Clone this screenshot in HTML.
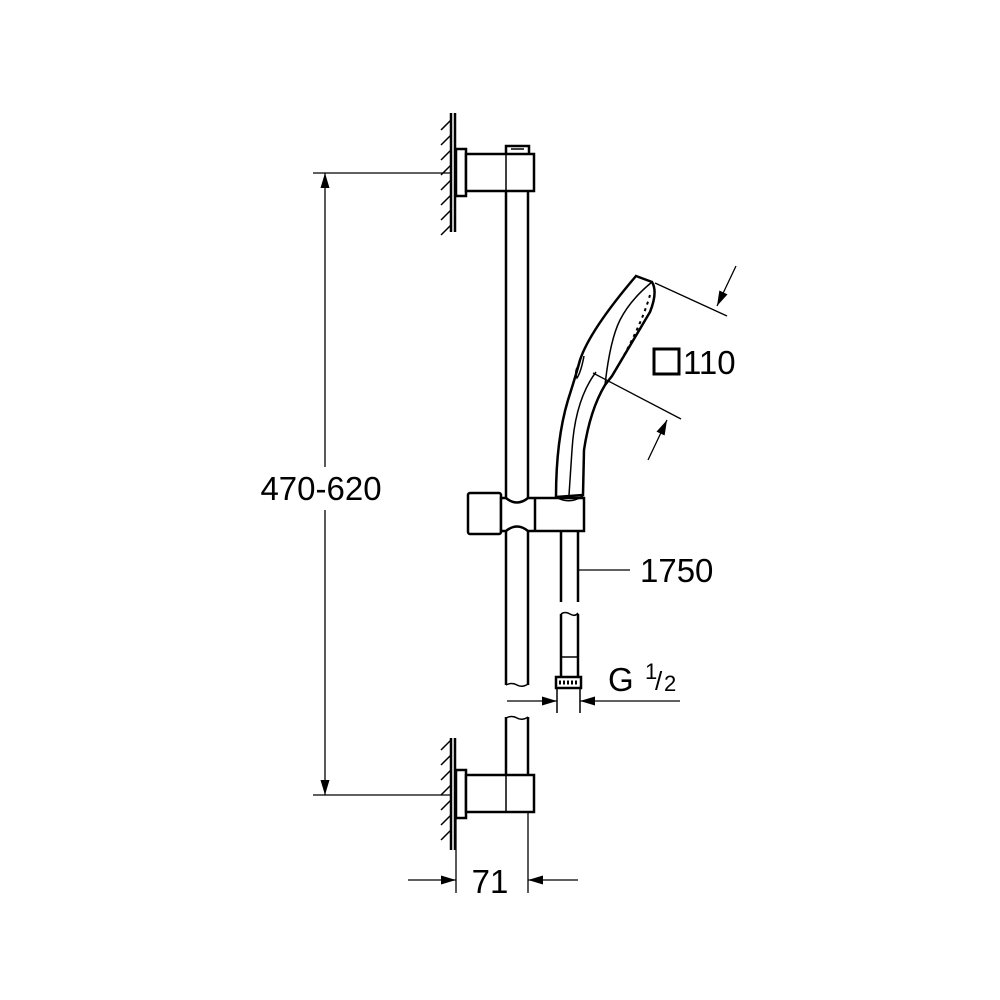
<!DOCTYPE html>
<html><head><style>html,body{margin:0;padding:0;background:#fff}svg{display:block}</style></head><body>
<svg width="1000" height="1000" viewBox="0 0 1000 1000" xmlns="http://www.w3.org/2000/svg">
<defs>
<marker id="a" viewBox="0 0 10 6" refX="10" refY="3" markerWidth="18" markerHeight="9" markerUnits="userSpaceOnUse" orient="auto"><path d="M0,0 L10,3 L0,6z" fill="#000"/></marker>
</defs>
<g fill="none" stroke="#000" stroke-width="2.5">
<line x1="451" y1="113" x2="451" y2="232"/><line x1="455" y1="113" x2="455" y2="232"/>
<rect x="456" y="149" width="10" height="47" fill="#fff"/>
<rect x="466" y="154" width="68" height="37" fill="#fff"/>
<line x1="506" y1="154" x2="506" y2="191" stroke-width="1.5"/>
<path d="M506,154 V146 H529 V154"/>
<line x1="511" y1="149" x2="524" y2="149" stroke-width="1.5"/>
<line x1="506" y1="191" x2="506" y2="685"/><line x1="528" y1="191" x2="528" y2="685"/>
<path d="M506,685 q6,-3 11,0 t11,-1" stroke-width="1.5"/>
<path d="M506,718 q6,-3 11,0 t11,-1" stroke-width="1.5"/>
<line x1="506" y1="717" x2="506" y2="775"/><line x1="528" y1="717" x2="528" y2="775"/>
<line x1="451" y1="738" x2="451" y2="850"/><line x1="455" y1="738" x2="455" y2="850"/>
<rect x="456" y="770" width="10" height="48" fill="#fff"/>
<rect x="466" y="775" width="68" height="37" fill="#fff"/>
<line x1="506" y1="775" x2="506" y2="812" stroke-width="1.5"/>
<rect x="468" y="493" width="33" height="41" rx="2" fill="#fff"/>
<path d="M501,498 H506 Q517,507 528,498 H584 V531 H528 Q517,522 506,531 H501 Z" fill="#fff"/>
<line x1="535" y1="498" x2="535" y2="531"/>
<line x1="561" y1="531" x2="561" y2="602"/><line x1="578" y1="531" x2="578" y2="602"/>
<path d="M561,614 q4,-3 9,0 t8,-1" stroke-width="1.5"/>
<line x1="561" y1="614" x2="561" y2="677"/><line x1="578" y1="614" x2="578" y2="677"/>
<line x1="561" y1="657" x2="578" y2="657" stroke-width="1.5"/>
<rect x="556" y="677" width="25" height="11" fill="#fff"/>
<line x1="559" y1="682.5" x2="578" y2="682.5" stroke-dasharray="2 2" stroke-width="4"/>
<line x1="557" y1="688" x2="557" y2="713" stroke-width="1.5"/><line x1="580" y1="688" x2="580" y2="713" stroke-width="1.5"/>
<path d="M636,276 L652,282 Q658,292 650,312 L612,376 L605,385 Q590,410 584,450 L583,495 L556,497 Q556,440 568,400 Q576,375 580,360 Q590,330 636,276 Z" fill="#fff"/>
<path d="M652,282 Q630,300 620,320 Q610,340 605,385" stroke-width="1.5"/>
<path d="M596,372 Q575,400 572,450 L569,495" stroke-width="1.5"/>
<path d="M578,366 Q574,372 577,378 Q581,372 584,356" stroke-width="1.5"/>
<path d="M556,497 Q569,505 583,496" stroke-width="1.5"/>
<path d="M650,295 Q640,330 612,376" stroke-width="2" stroke-dasharray="3 4"/>
</g>
<g stroke="#000" stroke-width="1.5">
<path d="M441,130 l10,-10 M441,145 l10,-10 M441,160 l10,-10 M441,175 l10,-10 M441,190 l10,-10 M441,205 l10,-10 M441,220 l10,-10 M441,235 l10,-10"/>
<path d="M441,750 l10,-10 M441,765 l10,-10 M441,780 l10,-10 M441,795 l10,-10 M441,810 l10,-10 M441,825 l10,-10 M441,840 l10,-10"/>
</g>
<g stroke="#000" stroke-width="1.3" fill="none">
<line x1="313" y1="173" x2="452" y2="173"/><line x1="313" y1="795" x2="452" y2="795"/>
<line x1="325" y1="467" x2="325" y2="173" marker-end="url(#a)"/>
<line x1="325" y1="510" x2="325" y2="795" marker-end="url(#a)"/>
<line x1="456" y1="818" x2="456" y2="893"/><line x1="528" y1="812" x2="528" y2="893"/>
<line x1="408" y1="880" x2="456" y2="880" marker-end="url(#a)"/>
<line x1="578" y1="880" x2="528" y2="880" marker-end="url(#a)"/>
<line x1="507" y1="701" x2="557" y2="701" marker-end="url(#a)"/>
<line x1="680" y1="701" x2="580" y2="701" marker-end="url(#a)"/>
<line x1="578" y1="570" x2="630" y2="570"/>
<line x1="655" y1="283" x2="727" y2="316"/>
<line x1="593" y1="373" x2="681" y2="419"/>
<line x1="736" y1="266" x2="717" y2="306" marker-end="url(#a)"/>
<line x1="648" y1="460" x2="667" y2="420" marker-end="url(#a)"/>
</g>
<rect x="654" y="349" width="25" height="25" fill="none" stroke="#000" stroke-width="3"/>
<g font-family="Liberation Sans, sans-serif" font-size="34" fill="#000">
<text x="321" y="500" text-anchor="middle" font-size="33">470-620</text>
<text x="683" y="374" font-size="33">110</text>
<text x="640" y="582" font-size="33">1750</text>
<text x="490" y="893" text-anchor="middle" font-size="33">71</text>
<text x="608" y="691" font-size="33">G</text>
<text x="645" y="679" font-size="22">1</text>
<text x="655" y="690" font-size="26">/</text>
<text x="664" y="691" font-size="22">2</text>
</g>
</svg>
</body></html>
